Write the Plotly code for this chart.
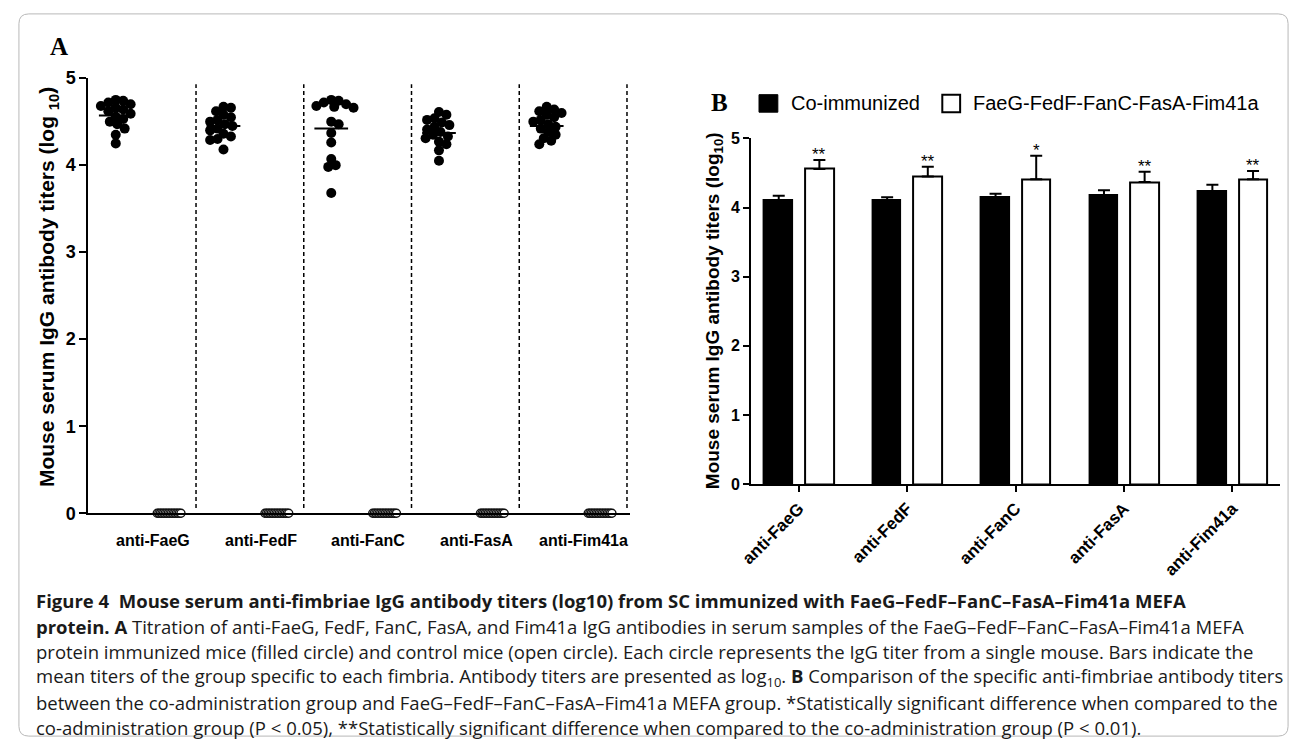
import numpy as np
import plotly.graph_objects as go

W, H = 1295, 750

# ---------------- data ----------------
groups = ["anti-FaeG", "anti-FedF", "anti-FanC", "anti-FasA", "anti-Fim41a"]

faeg_mefa = [4.75, 4.74, 4.72, 4.70, 4.68, 4.66, 4.64, 4.62, 4.59, 4.56, 4.53, 4.50, 4.47, 4.42, 4.35, 4.25]
fedf_mefa = [4.67, 4.66, 4.62, 4.58, 4.55, 4.52, 4.50, 4.47, 4.45, 4.42, 4.40, 4.36, 4.33, 4.30, 4.29, 4.18]
fanc_mefa = [4.75, 4.74, 4.72, 4.70, 4.68, 4.67, 4.66, 4.50, 4.47, 4.37, 4.26, 4.07, 4.00, 3.98, 3.68]
fasa_mefa = [4.61, 4.58, 4.54, 4.52, 4.49, 4.46, 4.44, 4.41, 4.38, 4.35, 4.33, 4.31, 4.27, 4.24, 4.17, 4.05]
fim41a_mefa = [4.67, 4.64, 4.62, 4.60, 4.58, 4.55, 4.52, 4.50, 4.47, 4.44, 4.42, 4.38, 4.35, 4.31, 4.28, 4.24]
control_titers = [0, 0, 0, 0, 0, 0, 0, 0, 0, 0, 0, 0, 0, 0, 0, 0]
group_means = [4.57, 4.45, 4.42, 4.37, 4.45]

co_immunized = [4.10, 4.11, 4.14, 4.18, 4.24]
co_immunized_err = [0.07, 0.04, 0.06, 0.07, 0.09]
mefa = [4.56, 4.45, 4.41, 4.37, 4.41]
mefa_err = [0.13, 0.14, 0.34, 0.15, 0.12]
significance = ["**", "**", "*", "**", "**"]

mefa_sets = [faeg_mefa, fedf_mefa, fanc_mefa, fasa_mefa, fim41a_mefa]

# ---------------- helpers ----------------
def fx(px):
    return px / W

def fy(py):
    return 1 - py / H

ARIAL = "Liberation Sans, Arial, sans-serif"
TIMES = "Liberation Serif, Times New Roman, serif"
CAP = "Open Sans, sans-serif"

# panel A geometry (pixels)
A_left, A_right, A_y0, A_y5 = 77, 624, 517, 70
A_xrange = [0, 5.03]
px_per_x = (A_right - A_left) / (A_xrange[1] - A_xrange[0])
px_per_y = (A_y0 - A_y5) / 5.0
FILLED_POS = 0.255
OPEN_POS = 0.75


def beeswarm(values, mind=7.5, step=1.5):
    order = np.argsort(-np.asarray(values, dtype=float))
    placed = []
    offs = np.zeros(len(values))
    for i in order:
        yp = values[i] * px_per_y
        k = 0
        while True:
            cand = 0 if k == 0 else ((k + 1) // 2) * step * (1 if k % 2 else -1)
            if all(np.hypot(cand - po, yp - pyo) >= mind for po, pyo in placed):
                break
            k += 1
        placed.append((cand, yp))
        offs[i] = cand
    return offs / px_per_x


fig = go.Figure()

# ---------------- panel A ----------------
for k, vals in enumerate(mefa_sets):
    xo = beeswarm(vals)
    fig.add_trace(go.Scatter(
        x=k + FILLED_POS + xo, y=vals, mode="markers", xaxis="x", yaxis="y",
        marker=dict(size=10, color="black", line=dict(width=0)),
        cliponaxis=False, showlegend=False, hoverinfo="y"))
    n = len(control_titers)
    co = np.linspace(-12, 12, n) / px_per_x
    fig.add_trace(go.Scatter(
        x=k + OPEN_POS + co, y=control_titers, mode="markers", xaxis="x", yaxis="y",
        marker=dict(size=8, color="white", line=dict(width=1.4, color="#111")),
        cliponaxis=False, showlegend=False, hoverinfo="y"))

mx, my = [], []
half = 17 / px_per_x
for k, m in enumerate(group_means):
    mx += [k + FILLED_POS - half, k + FILLED_POS + half, None]
    my += [m, m, None]
fig.add_trace(go.Scatter(x=mx, y=my, mode="lines", xaxis="x", yaxis="y",
                         line=dict(color="black", width=2), showlegend=False,
                         hoverinfo="skip", cliponaxis=False))

shapes = []
for k in range(1, len(groups) + 1):
    shapes.append(dict(type="line", xref="x", yref="y", x0=k, x1=k, y0=0.06, y1=4.93,
                       line=dict(color="black", width=1.5, dash="4px,3px")))

# ---------------- panel B ----------------
xs = np.arange(len(groups))
bw = 0.265
fig.add_trace(go.Bar(
    x=xs - 0.185, y=co_immunized, width=bw, xaxis="x2", yaxis="y2",
    marker=dict(color="black", line=dict(color="black", width=1.5)),
    error_y=dict(type="data", array=co_immunized_err, arrayminus=[0] * len(xs),
                 symmetric=False, color="black", thickness=2, width=6),
    showlegend=False, name="Co-immunized"))
fig.add_trace(go.Bar(
    x=xs + 0.19, y=mefa, width=bw, xaxis="x2", yaxis="y2",
    marker=dict(color="white", line=dict(color="black", width=2)),
    error_y=dict(type="data", array=mefa_err, arrayminus=[0] * len(xs),
                 symmetric=False, color="black", thickness=2, width=6),
    showlegend=False, name="FaeG-FedF-FanC-FasA-Fim41a"))

annotations = []
for k in range(len(groups)):
    annotations.append(dict(x=k + 0.19, y=mefa[k] + mefa_err[k], xref="x2", yref="y2",
                            text=significance[k], showarrow=False, xanchor="center",
                            yanchor="middle", yshift=5,
                            font=dict(family=ARIAL, size=17, color="black")))

# panel A category labels
for k, g in enumerate(groups):
    annotations.append(dict(x=k + 0.6, y=fy(545), xref="x", yref="paper", text=g,
                            xanchor="center", yanchor="middle", showarrow=False,
                            font=dict(family=ARIAL, size=16, color="black", weight="bold")))


def pa(x, y, text, size, family=ARIAL, angle=0, xanchor="center"):
    return dict(x=fx(x), y=fy(y), xref="paper", yref="paper", text=text, showarrow=False,
                xanchor=xanchor, yanchor="middle", textangle=angle,
                font=dict(family=family, size=size, color="black"))


annotations += [
    pa(47, 37, "<b>A</b>", 25, TIMES),
    pa(37, 285, "<b>Mouse serum IgG antibody titers (log <sub>10</sub>)</b>", 21, angle=-90),
    pa(714, 95, "<b>B</b>", 25, TIMES),
    pa(708, 309, "<b>Mouse serum IgG antibody titers (log<sub>10</sub>)</b>", 19, angle=-90),
    pa(784, 96, "Co-immunized", 20, xanchor="left"),
    pa(968, 96, "FaeG-FedF-FanC-FasA-Fim41a", 20, xanchor="left"),
]

# legend squares
shapes += [
    dict(type="rect", xref="paper", yref="paper", x0=fx(754), x1=fx(773), y0=fy(105), y1=fy(87),
         fillcolor="black", line=dict(color="black", width=1)),
    dict(type="rect", xref="paper", yref="paper", x0=fx(939), x1=fx(957), y0=fy(105), y1=fy(87),
         fillcolor="white", line=dict(color="black", width=2)),
]

# outer rounded frame
x0, y0, x1, y1, r = 7, 4, 1288, 746, 10
path = (f"M {fx(x0 + r)} {fy(y0)} L {fx(x1 - r)} {fy(y0)} "
        f"Q {fx(x1)} {fy(y0)} {fx(x1)} {fy(y0 + r)} L {fx(x1)} {fy(y1 - r)} "
        f"Q {fx(x1)} {fy(y1)} {fx(x1 - r)} {fy(y1)} L {fx(x0 + r)} {fy(y1)} "
        f"Q {fx(x0)} {fy(y1)} {fx(x0)} {fy(y1 - r)} L {fx(x0)} {fy(y0 + r)} "
        f"Q {fx(x0)} {fy(y0)} {fx(x0 + r)} {fy(y0)} Z")
shapes.append(dict(type="path", xref="paper", yref="paper", path=path,
                   line=dict(color="#b8b8b8", width=1), layer="below"))

# caption
caption = [
    "<b>Figure 4  Mouse serum anti-fimbriae IgG antibody titers (log10) from SC immunized with FaeG–FedF–FanC–FasA–Fim41a MEFA</b>",
    "<b>protein. A</b> Titration of anti-FaeG, FedF, FanC, FasA, and Fim41a IgG antibodies in serum samples of the FaeG–FedF–FanC–FasA–Fim41a MEFA",
    "protein immunized mice (filled circle) and control mice (open circle). Each circle represents the IgG titer from a single mouse. Bars indicate the",
    "mean titers of the group specific to each fimbria. Antibody titers are presented as log<sub>10</sub>. <b>B</b> Comparison of the specific anti-fimbriae antibody titers",
    "between the co-administration group and FaeG–FedF–FanC–FasA–Fim41a MEFA group. *Statistically significant difference when compared to the",
    "co-administration group (P < 0.05), **Statistically significant difference when compared to the co-administration group (P < 0.01).",
]
for i, line in enumerate(caption):
    annotations.append(dict(x=fx(22), y=fy(607 + 26 * i), xref="paper", yref="paper",
                            xanchor="left", yanchor="middle", text=line, showarrow=False,
                            font=dict(family=CAP, size=18.5, color="#1a1a1a")))

axis_common = dict(showgrid=False, zeroline=False, showline=True, linecolor="black",
                   linewidth=2, fixedrange=True)

fig.update_layout(
    width=W, height=H, margin=dict(l=0, r=0, t=0, b=0),
    paper_bgcolor="white", plot_bgcolor="rgba(0,0,0,0)",
    barmode="overlay", bargap=0,
    xaxis=dict(domain=[fx(A_left), fx(A_right)], range=A_xrange, ticks="", showticklabels=False,
               anchor="y", **axis_common),
    yaxis=dict(domain=[fy(A_y0), fy(A_y5)], range=[0, 5], anchor="x", tickvals=[0, 1, 2, 3, 4, 5],
               ticks="outside", ticklen=7, tickwidth=2, tickcolor="black",
               tickfont=dict(family=ARIAL, size=18, color="black", weight="bold"), **axis_common),
    xaxis2=dict(domain=[fx(746), fx(1280)], range=[-0.44, 4.44], anchor="y2",
                tickvals=list(xs), ticktext=groups, tickangle=-45, ticks="outside", ticklen=6,
                tickwidth=2, tickcolor="black",
                tickfont=dict(family=ARIAL, size=17, color="black", weight="bold"), **axis_common),
    yaxis2=dict(domain=[fy(487), fy(132)], range=[0, 5], anchor="x2", tickvals=[0, 1, 2, 3, 4, 5],
                ticks="outside", ticklen=6, tickwidth=2, tickcolor="black",
                tickfont=dict(family=ARIAL, size=16, color="black", weight="bold"), **axis_common),
    shapes=shapes, annotations=annotations,
)

fig.write_html("out.html", config={"displayModeBar": False},
               post_script="document.body.style.margin='0px';")
